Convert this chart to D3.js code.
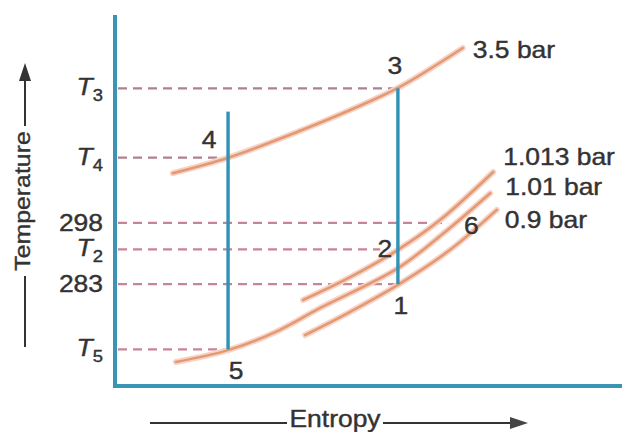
<!DOCTYPE html>
<html>
<head>
<meta charset="utf-8">
<script src="https://cdn.jsdelivr.net/npm/d3@7"></script>
<style>
body { margin: 0; background: #fff; }
svg { display: block; }
</style>
</head>
<body>
<script>
// schematic T-s diagram, entropy in arbitrary units 0..100
var tempTicks = [267, 283, 291.5, 298, 314, 331];
var tickMain = ["T", "283", "T", "298", "T", "T"];
var tickSub = ["5", "", "2", "", "4", "3"];

var isobarNames = ["3.5 bar", "1.013 bar", "1.01 bar", "0.9 bar"];
var isobar35 = [[11.4, 310.2], [22.3, 314], [36.5, 320.6], [46.4, 325.7], [55.8, 331.1], [68.6, 340.9]];
var isobar1013 = [[37.1, 279.1], [46.4, 284.7], [55.8, 291.4], [64.1, 298.7], [74.6, 310.5]];
var isobar101 = [[12.0, 263.9], [22.3, 266.8], [31.6, 271.2], [40.4, 277.1], [55.8, 286.9], [65.1, 295.8], [74.0, 305.3]];
var isobar09 = [[37.5, 270.5], [46.4, 276.2], [55.8, 282.8], [66.1, 291.4], [75.3, 301.2]];

var stateNames = ["1", "2", "3", "4", "5", "6"];
var stateS = [55.8, 55.8, 55.8, 22.3, 22.3, 67.7];
var stateT = [283, 291.5, 331, 314, 267, 298];

// vertical process lines: [s, T top, T bottom]
var compressLine = [55.8, 331, 283];
var expandLine = [22.3, 325.3, 267];

var w = 622;
var h = 432;

var x = d3.scaleLinear().domain([0, 100]).range([115, 622]);
var y = d3.scaleLinear().domain([258, 349]).range([386, 15]);

var blue = "#3a94b4";
var dash = "#c68498";
var ink = "#333";
var font = "'Liberation Sans', Arial, sans-serif";

var svg = d3.select("body")
  .append("svg")
  .attr("width", w)
  .attr("height", h);

function label(px, py, str, anchor, size) {
  return svg.append("text")
    .attr("transform", "translate(" + px + "," + py + ") scale(1.15,1)")
    .attr("text-anchor", anchor)
    .attr("font-family", font)
    .attr("font-size", size + "px")
    .attr("fill", ink)
    .attr("stroke", ink)
    .attr("stroke-width", 0.4)
    .text(str);
}

// dashed guides from the axis to the state points
var guideEnd = [
  [compressLine[0], stateT[2]],   // T3
  [expandLine[0], stateT[3]],     // T4
  [stateS[5] - 2, 298],           // 298 -> 6
  [stateS[1] - 3.5, stateT[1]],   // T2 -> 2
  [stateS[0], 283],               // 283 -> 1
  [expandLine[0], stateT[4]]      // T5
];
svg.selectAll("line.guide")
  .data(guideEnd)
  .enter()
  .append("line")
  .attr("class", "guide")
  .attr("x1", x(0) + 3)
  .attr("x2", function(d) { return x(d[0]); })
  .attr("y1", function(d) { return y(d[1]); })
  .attr("y2", function(d) { return y(d[1]); })
  .attr("stroke", function(d, i) { return i < 2 ? "#b0808f" : dash; })
  .attr("stroke-width", 2.2)
  .attr("stroke-dasharray", "9,6");

// isobars
var line = d3.line()
  .x(function(d) { return x(d[0]); })
  .y(function(d) { return y(d[1]); })
  .curve(d3.curveCatmullRom);

var isobars = [isobar35, isobar1013, isobar101, isobar09];
isobars.forEach(function(pts) {
  svg.append("path")
    .attr("d", line(pts))
    .attr("fill", "none")
    .attr("stroke", "#f7d3c8")
    .attr("stroke-width", 6)
    .attr("stroke-linecap", "round");
  svg.append("path")
    .attr("d", line(pts))
    .attr("fill", "none")
    .attr("stroke", "#e39a72")
    .attr("stroke-width", 2.6)
    .attr("stroke-linecap", "round");
});

// vertical process lines
[compressLine, expandLine].forEach(function(d) {
  svg.append("line")
    .attr("x1", x(d[0])).attr("x2", x(d[0]))
    .attr("y1", y(d[1])).attr("y2", y(d[2]))
    .attr("stroke", "#2f93b6")
    .attr("stroke-width", 3.4);
});

// axes
svg.append("line")
  .attr("x1", x(0)).attr("x2", x(0))
  .attr("y1", y(349)).attr("y2", y(258) + 2)
  .attr("stroke", blue).attr("stroke-width", 4);
svg.append("line")
  .attr("x1", x(0) - 2).attr("x2", x(100))
  .attr("y1", y(258)).attr("y2", y(258))
  .attr("stroke", blue).attr("stroke-width", 4);

// tick labels
tempTicks.forEach(function(t, i) {
  var txt = svg.append("text")
    .attr("transform", "translate(103," + (y(t) + 7) + ") scale(1.15,1)")
    .attr("text-anchor", "end")
    .attr("font-family", font)
    .attr("font-size", "23px")
    .attr("fill", ink)
    .attr("stroke", ink)
    .attr("stroke-width", 0.4);
  if (tickSub[i]) {
    txt.append("tspan").attr("font-style", "italic").text(tickMain[i]);
    txt.append("tspan").attr("font-size", "16px").attr("dy", 6).text(tickSub[i]);
  } else {
    txt.append("tspan").attr("dy", 1).text(tickMain[i]);
  }
});

// state point numbers
var stateOff = [[3, 30], [-13, 8], [-3, -14], [-19, -10], [8, 30], [13, 11]];
stateNames.forEach(function(n, i) {
  label(x(stateS[i]) + stateOff[i][0], y(stateT[i]) + stateOff[i][1], n, "middle", 23);
});

// isobar names next to the curve ends
var nameOff = [[10, 10], [10, -7], [15, 2], [8, 18]];
isobars.forEach(function(pts, i) {
  var end = pts[pts.length - 1];
  label(x(end[0]) + nameOff[i][0], y(end[1]) + nameOff[i][1], isobarNames[i], "start", 23);
});

// axis titles with arrows
svg.append("text")
  .attr("transform", "translate(30,201) rotate(-90) scale(1.13,1)")
  .attr("text-anchor", "middle")
  .attr("font-family", font)
  .attr("font-size", "22px")
  .attr("fill", ink)
  .attr("stroke", ink)
  .attr("stroke-width", 0.4)
  .text("Temperature");
svg.append("line").attr("x1", 25).attr("x2", 25).attr("y1", 347).attr("y2", 276)
  .attr("stroke", "#333").attr("stroke-width", 2);
svg.append("line").attr("x1", 25).attr("x2", 25).attr("y1", 126).attr("y2", 78)
  .attr("stroke", "#333").attr("stroke-width", 2);
svg.append("path").attr("d", "M19,81 L25,63 L31,81 Z").attr("fill", "#333");

label(335, 427, "Entropy", "middle", 23);
svg.append("line").attr("x1", 150).attr("x2", 287).attr("y1", 423).attr("y2", 423)
  .attr("stroke", "#333").attr("stroke-width", 2);
svg.append("line").attr("x1", 383).attr("x2", 512).attr("y1", 423).attr("y2", 423)
  .attr("stroke", "#333").attr("stroke-width", 2);
svg.append("path").attr("d", "M510,417 L528,423 L510,429 Z").attr("fill", "#444");
</script>
</body>
</html>
